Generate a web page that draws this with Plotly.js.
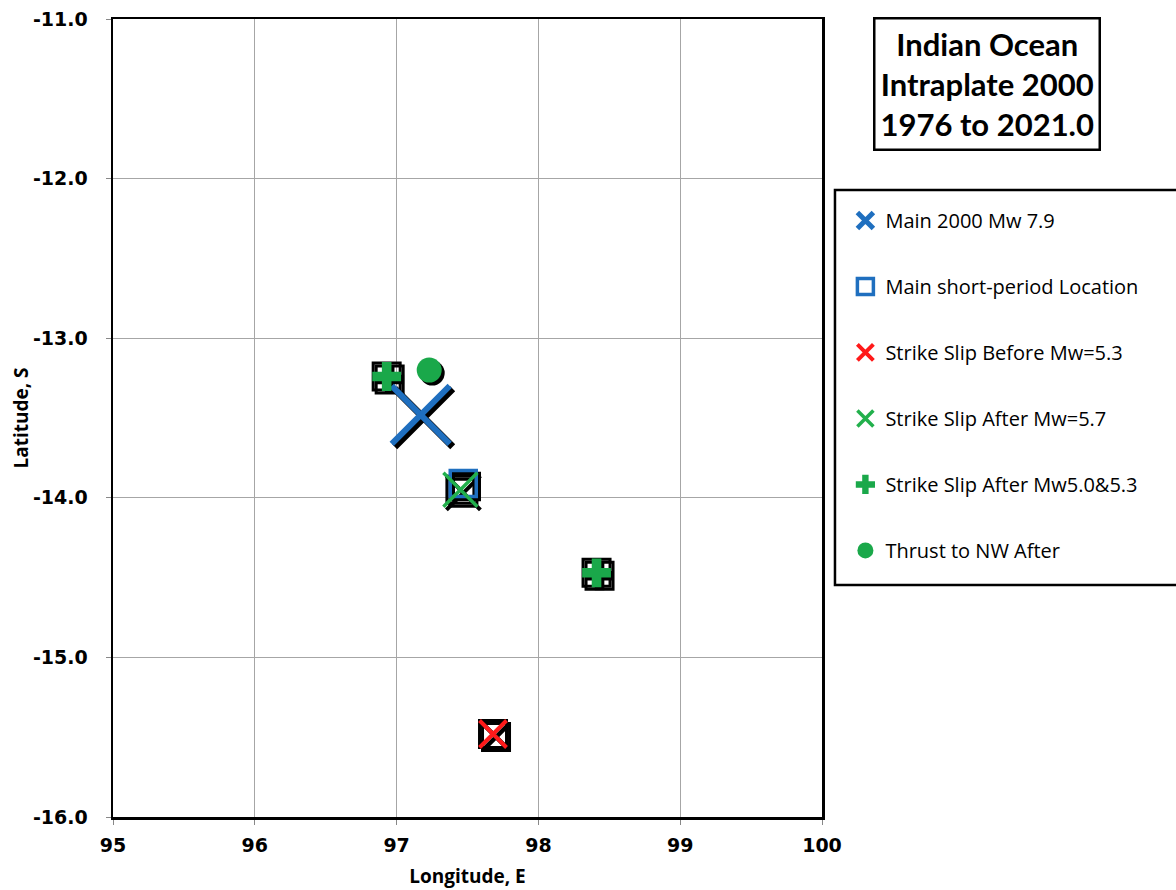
<!DOCTYPE html>
<html>
<head>
<meta charset="utf-8">
<script src="https://cdn.plot.ly/plotly-3.0.1.min.js"></script>
<style>html,body{margin:0;padding:0;background:#fff;}#chart{width:1176px;height:890px;}</style>
</head>
<body>
<div id="chart"></div>
<script>
// Data
const mainLon = [97.17];   const mainLat = [-13.48];
const spLon = [97.47];     const spLat = [-13.91];
const ssBeforeLon = [97.68]; const ssBeforeLat = [-15.48];
const ssAfterLon = [97.45];  const ssAfterLat = [-13.95];
const ssAfter2Lon = [96.93, 98.41]; const ssAfter2Lat = [-13.24, -14.47];
const thrustLon = [97.23];  const thrustLat = [-13.20];
const names = ["Main 2000 Mw 7.9", "Main short-period Location", "Strike Slip Before Mw=5.3",
  "Strike Slip After Mw=5.7", "Strike Slip After Mw5.0&5.3", "Thrust to NW After"];
const xTicks = [95, 96, 97, 98, 99, 100];
const yTicks = [-11, -12, -13, -14, -15, -16];

const blue = "#1f6fbf", red = "#ff1a1a", green = "#1aa84a", green2 = "#22b04c";
const boxLon = ssAfter2Lon.slice(0,1).concat(ssAfterLon, ssBeforeLon, ssAfter2Lon.slice(1));
const boxLat = ssAfter2Lat.slice(0,1).concat(ssAfterLat, ssBeforeLat, ssAfter2Lat.slice(1));

const traces = [];
// location boxes (base layer)
traces.push({x: boxLon, y: boxLat, xaxis: "x", yaxis: "y", mode: "markers", type: "scatter",
  showlegend: false, hoverinfo: "skip",
  marker: {symbol: "square-open", size: 27, color: "#000", line: {width: 3}}});
// shadows (middle layer, shifted axes)
function shadow(x, y, marker) {
  traces.push({x, y, xaxis: "x2", yaxis: "y2", mode: "markers", type: "scatter",
    showlegend: false, hoverinfo: "skip", marker});
}
shadow(boxLon, boxLat, {symbol: "square-open", size: 27, color: "#000", line: {width: 3}});
shadow(mainLon, mainLat, {symbol: "x-thin-open", size: 58, color: "#000", line: {width: 7}});
shadow(spLon, spLat, {symbol: "square-open", size: 26, color: "#000", line: {width: 3.5}});
shadow(ssBeforeLon, ssBeforeLat, {symbol: "x-thin-open", size: 27, color: "#000", line: {width: 4.5}});
shadow(ssAfterLon, ssAfterLat, {symbol: "x-thin-open", size: 34, color: "#000", line: {width: 4}});
shadow(ssAfter2Lon, ssAfter2Lat, {symbol: "cross", size: 24, color: "#000", line: {width: 0}});
shadow(thrustLon, thrustLat, {symbol: "circle", size: 25, color: "#000", line: {width: 0}});

// main markers (top layer)
function main(x, y, name, grp, marker) {
  traces.push({x, y, xaxis: "x3", yaxis: "y3", name, legendgroup: grp, mode: "markers", type: "scatter", marker});
}
main(mainLon, mainLat, names[0], "a", {symbol: "x-thin-open", size: 58, color: blue, line: {width: 6, color: blue}});
main(spLon, spLat, names[1], "b", {symbol: "square-open", size: 26, color: blue, line: {width: 3.5, color: blue}});
main(ssBeforeLon, ssBeforeLat, names[2], "c", {symbol: "x-thin-open", size: 27, color: red, line: {width: 4, color: red}});
main(ssAfterLon, ssAfterLat, names[3], "d", {symbol: "x-thin-open", size: 34, color: green2, line: {width: 3.5, color: green2}});
main(ssAfter2Lon, ssAfter2Lat, names[4], "e", {symbol: "cross", size: 24, color: green, line: {width: 0}});
main(thrustLon, thrustLat, names[5], "f", {symbol: "circle", size: 25, color: green, line: {width: 0}});

const dx = 3 / 141.8, dy = 3 / 159.6;
const tickFont = {family: "DejaVu Sans", size: 19, color: "#000", weight: "bold"};
const titleFont = {family: "Open Sans", size: 19, color: "#000", weight: "bold"};
const layout = {
  width: 1176, height: 890,
  margin: {l: 113, r: 354, t: 19, b: 73},
  paper_bgcolor: "#fff", plot_bgcolor: "#fff",
  showlegend: true,
  xaxis: {range: [95, 100], tickvals: xTicks, ticktext: xTicks.map(String),
    showgrid: true, gridcolor: "#a6a6a6", gridwidth: 1.3, zeroline: false,
    showline: true, linecolor: "#000", linewidth: 2.5, mirror: true,
    ticks: "outside", ticklen: 5, tickcolor: "#888", tickfont: tickFont, ticklabelstandoff: 5,
    title: {text: "Longitude, E", font: titleFont, standoff: 15}},
  yaxis: {range: [-16, -11], tickvals: yTicks, ticktext: yTicks.map(v => v.toFixed(1)),
    showgrid: true, gridcolor: "#a6a6a6", gridwidth: 1.3, zeroline: false,
    showline: true, linecolor: "#000", linewidth: 2.5, mirror: true,
    ticks: "outside", ticklen: 5, tickcolor: "#888", tickfont: tickFont, ticklabelstandoff: 14,
    title: {text: "Latitude, S", font: titleFont, standoff: 0}},
  xaxis2: {overlaying: "x", range: [95 - dx, 100 - dx], visible: false, showgrid: false},
  yaxis2: {overlaying: "y", range: [-16 + dy, -11 + dy], visible: false, showgrid: false},
  xaxis3: {overlaying: "x", range: [95, 100], visible: false, showgrid: false},
  yaxis3: {overlaying: "y", range: [-16, -11], visible: false, showgrid: false},
  legend: {x: 1.033, y: 0.772, xanchor: "left", yanchor: "top",
    borderwidth: 0, bgcolor: "rgba(0,0,0,0)",
    font: {family: "Open Sans", size: 20, color: "#000"},
    traceorder: "grouped", tracegroupgap: 37, itemsizing: "trace"},
  shapes: [{type: "rect", xref: "paper", yref: "paper", x0: 1.0183, x1: 1.51, y0: 0.2907, y1: 0.7857,
    line: {color: "#000", width: 2.5}, fillcolor: "rgba(0,0,0,0)"}],
  annotations: [{
    xref: "paper", yref: "paper", x: 1.233, y: 0.919, xanchor: "center", yanchor: "middle",
    text: "<b>Indian Ocean<br>Intraplate 2000<br>1976 to 2021.0</b>", showarrow: false,
    font: {family: "Lato", size: 31, color: "#000"}, align: "center",
    bordercolor: "#000", borderwidth: 2.5, borderpad: 5, bgcolor: "#fff"
  }]
};
Plotly.newPlot("chart", traces, layout, {displayModeBar: false, staticPlot: true});
</script>
</body>
</html>
